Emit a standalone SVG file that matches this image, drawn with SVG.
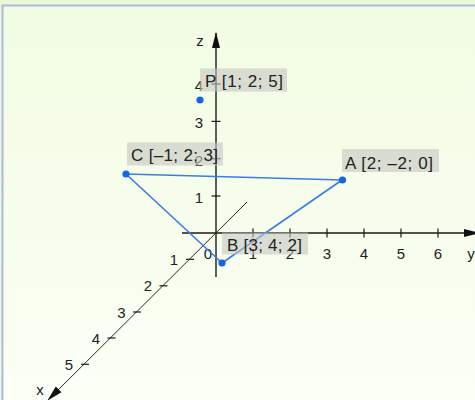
<svg xmlns="http://www.w3.org/2000/svg" width="475" height="400" viewBox="0 0 475 400">
<defs>
<linearGradient id="bg" x1="0" y1="0" x2="0" y2="1">
<stop offset="0" stop-color="#f2fce2"/>
<stop offset="1" stop-color="#fbfff6"/>
</linearGradient>
<marker id="arr" viewBox="0 0 16 10" refX="15" refY="5" markerWidth="16" markerHeight="10" markerUnits="userSpaceOnUse" orient="auto">
<path d="M0,1 L16,5 L0,9 Z" fill="#111"/>
</marker>
<style>
.ax{stroke:#1a1a1a;stroke-width:1.4;fill:none}
.axx{stroke:#2a2a2a;stroke-width:1;fill:none}
.tk{stroke:#1a1a1a;stroke-width:1.2}
.tl{font-family:"Liberation Sans",Arial,sans-serif;font-size:15px;fill:#222}
.edge{stroke:#3b7be6;stroke-width:1.6;fill:none}
.pt{fill:#1565e8}
.box{fill:#c4c6c2;fill-opacity:0.6}
.lbl{font-family:"Liberation Sans",Arial,sans-serif;font-size:17px;fill:#222}
</style>
</defs>
<rect x="0" y="0" width="475" height="400" fill="#edf8d6"/>
<rect x="2" y="5" width="473" height="395" fill="url(#bg)"/>
<path d="M2.5,400 V5.5 H475" stroke="#a8bbe2" stroke-width="2" fill="none"/>

<g id="axes">
<line class="ax" x1="216" y1="277" x2="216" y2="33" marker-end="url(#arr)"/>
<line class="ax" x1="182" y1="233" x2="479" y2="233" marker-end="url(#arr)"/>
<line class="axx" x1="247" y1="202" x2="48" y2="400" marker-end="url(#arr)"/>
<g class="tk">
<line x1="211.5" y1="196" x2="220.5" y2="196"/>
<line x1="211.5" y1="158.7" x2="220.5" y2="158.7"/>
<line x1="211.5" y1="121.4" x2="220.5" y2="121.4"/>
<line x1="211.5" y1="84" x2="220.5" y2="84"/>
<line x1="253" y1="228.5" x2="253" y2="237.5"/>
<line x1="290" y1="228.5" x2="290" y2="237.5"/>
<line x1="327" y1="228.5" x2="327" y2="237.5"/>
<line x1="364" y1="228.5" x2="364" y2="237.5"/>
<line x1="401" y1="228.5" x2="401" y2="237.5"/>
<line x1="438" y1="228.5" x2="438" y2="237.5"/>
<line x1="186" y1="259.3" x2="194" y2="259.3"/>
<line x1="159.5" y1="285.8" x2="167.5" y2="285.8"/>
<line x1="133" y1="312" x2="141" y2="312"/>
<line x1="107.5" y1="338" x2="115.5" y2="338"/>
<line x1="81" y1="364.3" x2="89" y2="364.3"/>
</g>
<g class="tl">
<text x="200" y="46" text-anchor="middle">z</text>
<text x="203" y="203" text-anchor="end">1</text>
<text x="203" y="165.5" text-anchor="end">2</text>
<text x="203" y="128.2" text-anchor="end">3</text>
<text x="203" y="90.5" text-anchor="end">4</text>
<text x="208" y="258.5" text-anchor="middle">0</text>
<text x="253" y="258.5" text-anchor="middle">1</text>
<text x="290" y="258.5" text-anchor="middle">2</text>
<text x="327" y="258.5" text-anchor="middle">3</text>
<text x="364" y="258.5" text-anchor="middle">4</text>
<text x="401" y="258.5" text-anchor="middle">5</text>
<text x="438" y="258.5" text-anchor="middle">6</text>
<text x="471" y="258.5" text-anchor="middle">y</text>
<text x="174" y="264.5" text-anchor="middle">1</text>
<text x="148" y="291" text-anchor="middle">2</text>
<text x="121.5" y="317.5" text-anchor="middle">3</text>
<text x="96" y="343.5" text-anchor="middle">4</text>
<text x="69" y="369.5" text-anchor="middle">5</text>
<text x="40" y="395" text-anchor="middle">x</text>
</g>
</g>

<g id="connectors">
<line class="edge" x1="126" y1="174" x2="342" y2="180" stroke-width="2"/>
<line class="edge" x1="342" y1="180" x2="222" y2="263"/>
<line class="edge" x1="222" y1="263" x2="126" y2="174"/>
</g>

<g id="P">
<circle class="pt" cx="200" cy="100" r="3.6"/>
<rect class="box" x="200" y="68.5" width="87" height="23"/>
<text class="lbl" x="205" y="87" textLength="78" lengthAdjust="spacing">P [1; 2; 5]</text>
</g>
<g id="C">
<circle class="pt" cx="126" cy="174" r="3.6"/>
<rect class="box" x="127" y="142.5" width="96" height="23"/>
<text class="lbl" x="131" y="160.8" textLength="87" lengthAdjust="spacing">C [–1; 2; 3]</text>
</g>
<g id="A">
<circle class="pt" cx="342.5" cy="180" r="3.6"/>
<rect class="box" x="342" y="149" width="97" height="23"/>
<text class="lbl" x="345" y="168.5" textLength="88" lengthAdjust="spacing">A [2; –2; 0]</text>
</g>
<g id="B">
<circle class="pt" cx="222" cy="263" r="3.6"/>
<rect class="box" x="222" y="232.5" width="86" height="22"/>
<text class="lbl" x="227" y="251" textLength="75" lengthAdjust="spacing">B [3; 4; 2]</text>
</g>
</svg>
